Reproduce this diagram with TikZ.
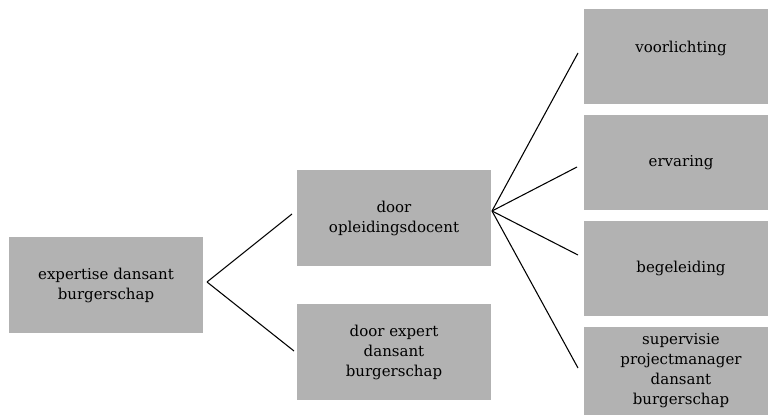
\documentclass[tikz,border=0pt]{standalone}
\usepackage{fontspec}
\setmainfont{DejaVu Serif}
\usetikzlibrary{positioning}

\definecolor{boxgray}{RGB}{178,178,178}
\def\px{0.75pt}

\tikzset{
    box/.style={fill=boxgray, inner sep=0pt, minimum width=194*\px, minimum height=96*\px,
        align=center, font=\fontsize{11.25}{15}\selectfont},
    link/.style={draw=black, line width=0.8pt}
}

\begin{document}
\begin{tikzpicture}[x=\px, y=-\px]
        \useasboundingbox (0,0) rectangle (768,417);

        % left and middle boxes
        \node[box] (expertise) at (106,285) {expertise dansant\\burgerschap};
        \node[box] (docent) at (394,218) {door\\opleidingsdocent};
        \node[box] (expert) at (394,352) {door expert\\dansant\\burgerschap};

        % right column
        \foreach \id/\y/\h/\txt in {
            voorlichting/56.5/95/{voorlichting\\\mbox{}},
            ervaring/162.5/95/ervaring,
            begeleiding/268.5/95/begeleiding,
            supervisie/371/88/{supervisie\\projectmanager\\dansant\\burgerschap}}
        {
            \node[box, minimum height=\h*\px] (\id) at (681,\y) {\txt};
        }

        % forks
        \coordinate (fork1) at (207,282);
        \coordinate (fork2) at (492,211);

        \foreach \point/\a/\b in {docent/292/214, expert/294/351}{
            \coordinate (\point-in) at (\a,\b);
            \draw[link] (fork1) -- (\point-in);
        }

        \foreach \point/\a/\b in {voorlichting/578/53, ervaring/577/167, begeleiding/578/255, supervisie/578/368}{
            \coordinate (\point-in) at (\a,\b);
            \draw[link] (fork2) -- (\point-in);
        }
    \end{tikzpicture}
\end{document}
